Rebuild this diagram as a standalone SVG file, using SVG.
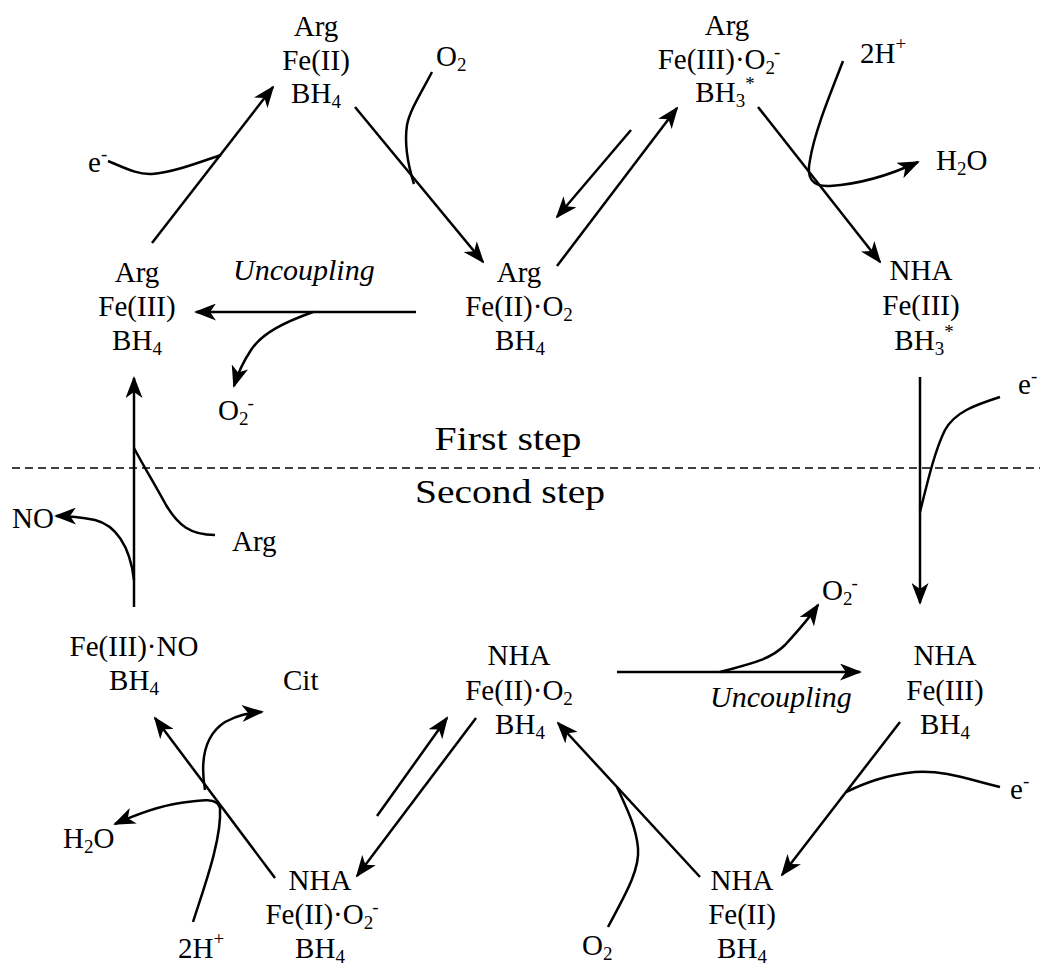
<svg xmlns="http://www.w3.org/2000/svg" width="1049" height="969" viewBox="0 0 1049 969">
<style>
text{font-family:"Liberation Serif","Times New Roman",serif;font-size:29px;fill:#000}
.n text{text-anchor:middle}
.it{font-style:italic;font-size:30px}
.step{font-size:33px;text-anchor:middle}
.sub{font-size:19px}
.c path,.c line{fill:none;stroke:#000;stroke-width:2.5}
.a{marker-end:url(#ah)}
</style>
<defs>
<marker id="ah" viewBox="0 0 22 17" markerWidth="22" markerHeight="17" refX="20" refY="8.5" orient="auto" markerUnits="userSpaceOnUse">
<path d="M0,0 L22,8.5 L0,17 L6,8.5 z" fill="#000"/>
</marker>
</defs>
<rect width="1049" height="969" fill="#fff"/>

<g id="n1" class="n">
<text x="316" y="36">Arg</text>
<text x="316" y="70">Fe(II)</text>
<text x="316" y="103">BH<tspan class="sub" dy="5">4</tspan></text>
</g>
<g id="n2" class="n">
<text x="727" y="35">Arg</text>
<text x="719" y="69">Fe(III)·O<tspan class="sub" dy="5">2</tspan><tspan class="sub" dy="-16" dx="-1">-</tspan></text>
<text x="725" y="102">BH<tspan class="sub" dy="5">3</tspan><tspan class="sub" dy="-17">*</tspan></text>
</g>
<g id="n3" class="n">
<text x="137" y="282">Arg</text>
<text x="137" y="316">Fe(III)</text>
<text x="137" y="350">BH<tspan class="sub" dy="5">4</tspan></text>
</g>
<g id="n4" class="n">
<text x="519" y="282">Arg</text>
<text x="519" y="316">Fe(II)·O<tspan class="sub" dy="5">2</tspan></text>
<text x="520" y="350">BH<tspan class="sub" dy="5">4</tspan></text>
</g>
<g id="n5" class="n">
<text x="921" y="280">NHA</text>
<text x="921" y="315">Fe(III)</text>
<text x="924" y="350">BH<tspan class="sub" dy="5">3</tspan><tspan class="sub" dy="-17">*</tspan></text>
</g>
<g id="n6" class="n">
<text x="134" y="656">Fe(III)·NO</text>
<text x="134" y="690">BH<tspan class="sub" dy="5">4</tspan></text>
</g>
<g id="n7" class="n">
<text x="519" y="665">NHA</text>
<text x="519" y="700">Fe(II)·O<tspan class="sub" dy="5">2</tspan></text>
<text x="520" y="734">BH<tspan class="sub" dy="5">4</tspan></text>
</g>
<g id="n8" class="n">
<text x="945" y="665">NHA</text>
<text x="945" y="700">Fe(III)</text>
<text x="945" y="734">BH<tspan class="sub" dy="5">4</tspan></text>
</g>
<g id="n9" class="n">
<text x="320" y="890">NHA</text>
<text x="322" y="924">Fe(II)·O<tspan class="sub" dy="5">2</tspan><tspan class="sub" dy="-16" dx="-1">-</tspan></text>
<text x="320" y="958">BH<tspan class="sub" dy="5">4</tspan></text>
</g>
<g id="n10" class="n">
<text x="742" y="890">NHA</text>
<text x="742" y="924">Fe(II)</text>
<text x="742" y="958">BH<tspan class="sub" dy="5">4</tspan></text>
</g>

<g id="labels">
<text x="88" y="172">e<tspan class="sub" dy="-12">-</tspan></text>
<text x="436" y="66">O<tspan class="sub" dy="5">2</tspan></text>
<text x="860" y="63">2H<tspan class="sub" dy="-13">+</tspan></text>
<text x="936" y="170">H<tspan class="sub" dy="5">2</tspan><tspan dy="-5">O</tspan></text>
<text class="it" x="233" y="280">Uncoupling</text>
<text x="218" y="420">O<tspan class="sub" dy="5">2</tspan><tspan class="sub" dy="-16" dx="-1">-</tspan></text>
<text x="1018" y="394">e<tspan class="sub" dy="-12">-</tspan></text>
<text class="step" x="508" y="450" textLength="147" lengthAdjust="spacingAndGlyphs">First step</text>
<text class="step" x="510" y="503" textLength="190" lengthAdjust="spacingAndGlyphs">Second step</text>
<text x="12" y="528">NO</text>
<text x="232" y="551">Arg</text>
<text x="283" y="690">Cit</text>
<text x="63" y="848">H<tspan class="sub" dy="5">2</tspan><tspan dy="-5">O</tspan></text>
<text x="178" y="958">2H<tspan class="sub" dy="-13">+</tspan></text>
<text x="822" y="600">O<tspan class="sub" dy="5">2</tspan><tspan class="sub" dy="-16" dx="-1">-</tspan></text>
<text class="it" x="710" y="707">Uncoupling</text>
<text x="1010" y="799">e<tspan class="sub" dy="-12">-</tspan></text>
<text x="582" y="955">O<tspan class="sub" dy="5">2</tspan></text>
</g>

<line x1="12" y1="468" x2="1040" y2="468" stroke="#000" stroke-width="1.6" stroke-dasharray="8,5"/>

<g id="connectors" class="c">
<line class="a" x1="152" y1="243" x2="273" y2="87"/>
<path d="M108,161 C125,168 138,175 152,174 C175,172 200,162 221,155"/>
<line class="a" x1="355" y1="107" x2="483" y2="262"/>
<path d="M432,72 C420,95 410,110 407,125 C404,145 408,165 414,184"/>
<line class="a" x1="416" y1="312" x2="196" y2="312"/>
<path class="a" d="M313,312 C285,322 262,333 251,350 C243,362 238,373 234,386"/>
<line class="a" x1="557" y1="266" x2="677" y2="108"/>
<line class="a" x1="631" y1="130" x2="557" y2="217"/>
<line class="a" x1="758" y1="107" x2="880" y2="262"/>
<path class="a" d="M843,61 C830,95 815,130 810,160 C806,178 812,187 830,186 C860,184 890,175 918,162"/>
<line class="a" x1="920" y1="377" x2="920" y2="603"/>
<path d="M1000,397 C975,405 955,412 945,430 C935,450 928,480 920,512"/>
<line class="a" x1="134" y1="607" x2="134" y2="378"/>
<path d="M215,535 C190,535 178,525 166,505 C155,485 143,465 134,448"/>
<path class="a" d="M134,580 C130,545 115,525 95,520 C80,517 70,516 56,516"/>
<line class="a" x1="617" y1="672" x2="860" y2="672"/>
<path class="a" d="M720,672 C750,664 770,660 785,645 C797,632 808,620 818,605"/>
<line class="a" x1="900" y1="722" x2="782" y2="875"/>
<path d="M1000,787 C970,780 945,770 915,772 C885,775 865,783 846,792"/>
<line class="a" x1="700" y1="877" x2="558" y2="723"/>
<path d="M608,927 C625,895 640,870 638,848 C636,825 625,805 617,787"/>
<line class="a" x1="377" y1="816" x2="447" y2="718"/>
<line class="a" x1="476" y1="718" x2="357" y2="876"/>
<line class="a" x1="275" y1="878" x2="155" y2="718"/>
<path class="a" d="M205,790 C200,760 205,735 225,722 C238,715 248,713 262,712"/>
<path class="a" d="M193,922 C203,890 222,840 220,808 C218,797 200,800 180,803 C160,806 135,815 115,824"/>
</g>
</svg>
